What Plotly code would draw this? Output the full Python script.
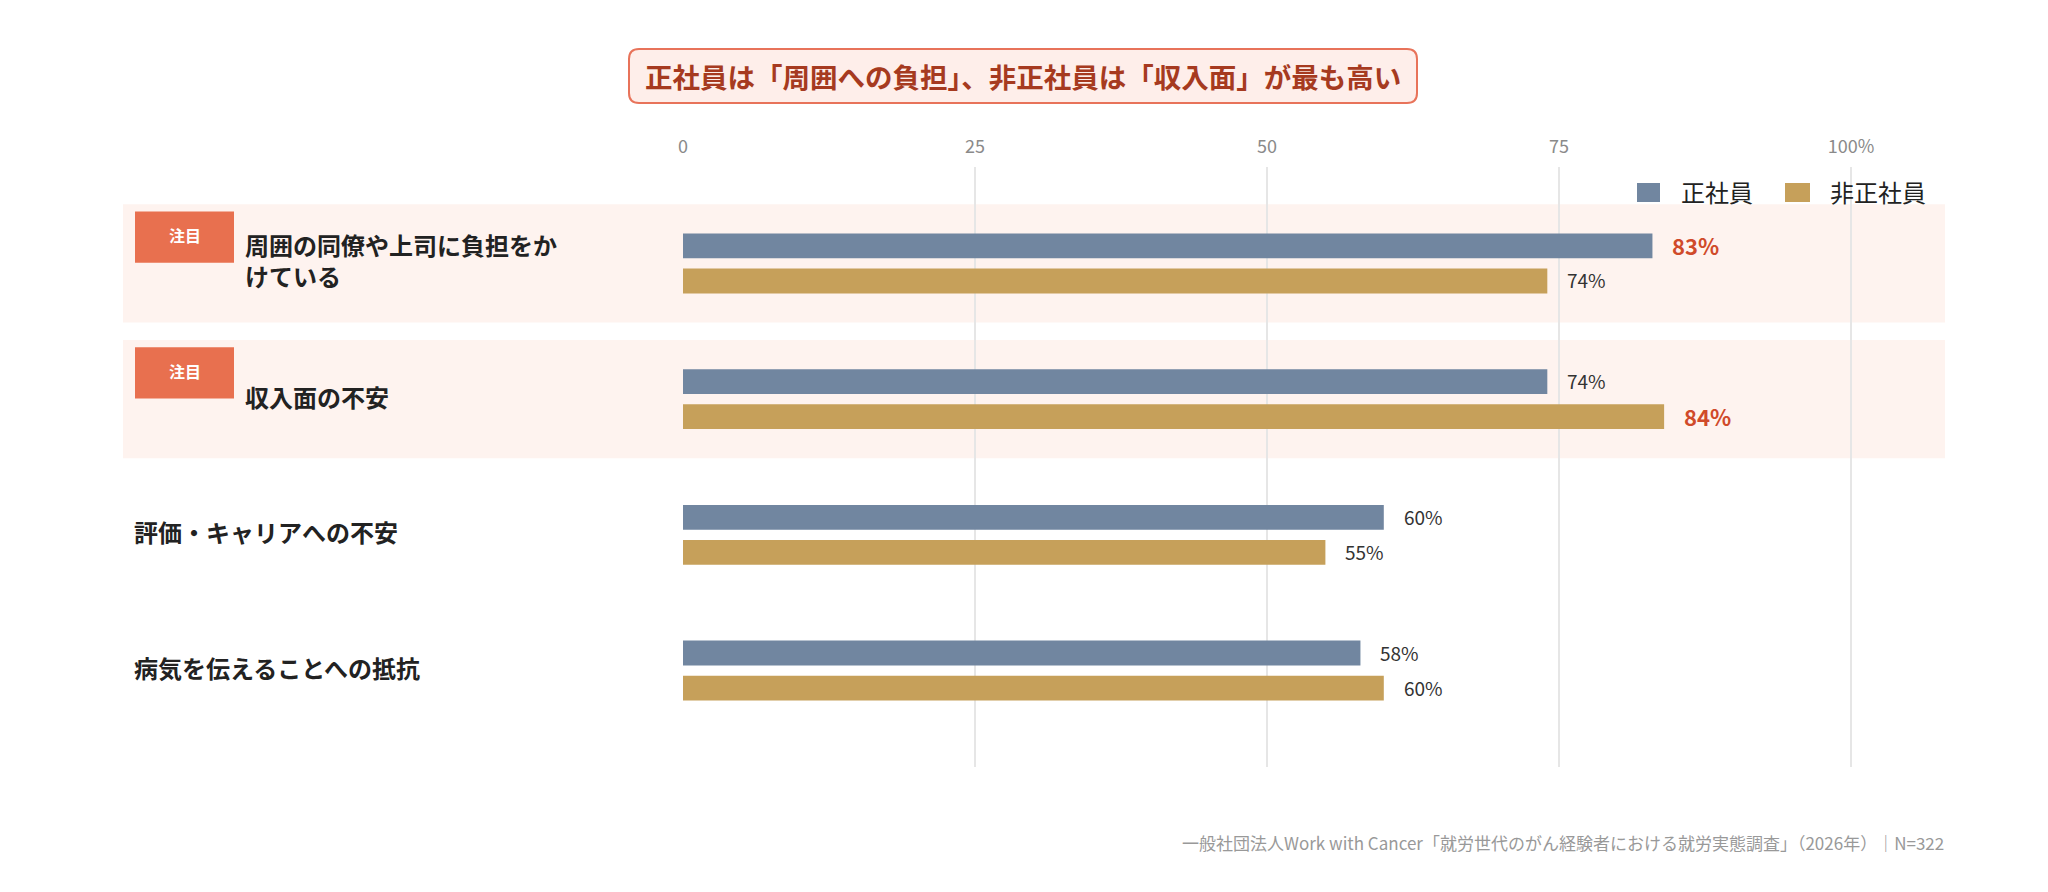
import plotly.graph_objects as go

# ---- data ----
categories = ["周囲の同僚や上司に負担をかけている", "収入面の不安", "評価・キャリアへの不安", "病気を伝えることへの抵抗"]
series_names = ["正社員", "非正社員"]
seikoyo = [83, 74, 60, 58]
hiseiki = [74, 84, 55, 60]
highlight_rows = [0, 1]
badge_text = "注目"
tick_vals = [0, 25, 50, 75, 100]
tick_text = ["0", "25", "50", "75", "100%"]
title_text = "正社員は「周囲への負担」、非正社員は「収入面」が最も高い"
source_text = "一般社団法人Work with Cancer「就労世代のがん経験者における就労実態調査」（2026年）｜N=322"

# ---- style ----
FONT = "Noto Sans CJK JP"
OFF = 8                      # page body margin
W, H = 2048 - OFF, 892 - OFF
PL, PR, PT, PB = 683, 1945, 167, 767   # plot area in screen pixels
ML, MR, MT, MB = PL - OFF, W - (PR - OFF), PT - OFF, H - (PB - OFF)
PW, PH = PR - PL, PB - PT
colors = ["#7186A0", "#C6A05A"]
HL = "#D04A2A"

def px2x(px):
    return (px - PL) / PW

def py2y(py):
    return 1 - (py - PT) / PH

fig = go.Figure()
for name, vals, col in zip(series_names, [seikoyo, hiseiki], colors):
    fig.add_trace(go.Bar(
        y=categories, x=vals, name=name, orientation="h",
        marker=dict(color=col, line=dict(width=0)), showlegend=False,
        hoverinfo="skip",
    ))

shapes = []
annotations = []

def wrap(s, n=13):
    return "<br>".join(s[i:i + n] for i in range(0, len(s), n))

for i, cat in enumerate(categories):
    hl = i in highlight_rows
    if hl:
        shapes.append(dict(type="rect", xref="paper", yref="y", x0=px2x(123), x1=px2x(1945),
                           y0=i - 0.435, y1=i + 0.435, fillcolor="#FEF3EF", line=dict(width=0), layer="below"))
        shapes.append(dict(type="rect", xref="paper", yref="y", x0=px2x(135), x1=px2x(234),
                           y0=i - 0.383, y1=i - 0.005, fillcolor="#E8704F", line=dict(width=0), layer="above"))
        annotations.append(dict(xref="paper", yref="y", x=px2x(184.5), y=i - 0.194, text=badge_text,
                                showarrow=False, xanchor="center", yanchor="middle", yshift=2,
                                font=dict(family=FONT, size=16, color="white", weight=700)))
    annotations.append(dict(xref="paper", yref="y", x=px2x(243 if hl else 132), y=cat,
                            text=wrap(cat), showarrow=False, xanchor="left", yanchor="middle", align="left",
                            yshift=3,
                            font=dict(family=FONT, size=24, color="#222222", weight=700)))

for s, vals in enumerate([seikoyo, hiseiki]):
    mx = max(vals)
    for i, v in enumerate(vals):
        is_hl = v == mx
        annotations.append(dict(xref="x", yref="y", x=v, y=categories[i], text=f"{v}%",
                                showarrow=False, xanchor="left", yanchor="middle",
                                xshift=18, yshift=18.5 if s == 0 else -16.5,
                                font=dict(family=FONT, size=22 if is_hl else 19,
                                          color=HL if is_hl else "#333333",
                                          weight=700 if is_hl else 400)))

leg = [(1637, 1660, 1681), (1785, 1810, 1830)]
for (a, b, t), name, col in zip(leg, series_names, colors):
    shapes.append(dict(type="rect", xref="paper", yref="paper", x0=px2x(a), x1=px2x(b),
                       y0=py2y(202), y1=py2y(183), fillcolor=col, line=dict(width=0)))
    annotations.append(dict(xref="paper", yref="paper", x=px2x(t - 2), y=py2y(191), text=name,
                            showarrow=False, xanchor="left", yanchor="middle",
                            font=dict(family=FONT, size=24, color="#222222")))

x0, x1, y0, y1 = px2x(629), px2x(1417), py2y(103), py2y(49)
rx, ry = 10 / PW, 10 / PH
path = (f"M {x0+rx},{y1} L {x1-rx},{y1} Q {x1},{y1} {x1},{y1-ry} L {x1},{y0+ry} "
        f"Q {x1},{y0} {x1-rx},{y0} L {x0+rx},{y0} Q {x0},{y0} {x0},{y0+ry} "
        f"L {x0},{y1-ry} Q {x0},{y1} {x0+rx},{y1} Z")
shapes.append(dict(type="path", xref="paper", yref="paper", path=path,
                   fillcolor="#FEEEEA", line=dict(color="#E8735A", width=2)))
annotations.append(dict(xref="paper", yref="paper", x=px2x(1023), y=py2y(76), text=title_text,
                        showarrow=False, xanchor="center", yanchor="middle",
                        font=dict(family=FONT, size=27.5, color="#A63A20", weight=700)))

annotations.append(dict(xref="paper", yref="paper", x=px2x(1946), y=py2y(842), text=source_text,
                        showarrow=False, xanchor="right", yanchor="middle",
                        font=dict(family=FONT, size=17, color="#999999")))

fig.update_layout(
    width=W, height=H,
    margin=dict(l=ML, r=MR, t=MT, b=MB, pad=0),
    paper_bgcolor="white", plot_bgcolor="rgba(0,0,0,0)",
    barmode="group", bargap=0.484, bargroupgap=0.287,
    font=dict(family=FONT),
    shapes=shapes, annotations=annotations,
    xaxis=dict(range=[0, (1945 - PL) / (1851 - PL) * 100], side="top", tickvals=tick_vals, ticktext=tick_text,
               showgrid=True, gridcolor="#E6E6E6", gridwidth=1.5, zeroline=False, showline=False,
               ticks="", ticklabelstandoff=9, tickfont=dict(family=FONT, size=18, color="#8A8A8A"),
               fixedrange=True),
    yaxis=dict(range=[3.71, -0.71], showticklabels=False, showgrid=False, zeroline=False,
               showline=False, ticks="", fixedrange=True),
)

fig.write_html("out.html")
